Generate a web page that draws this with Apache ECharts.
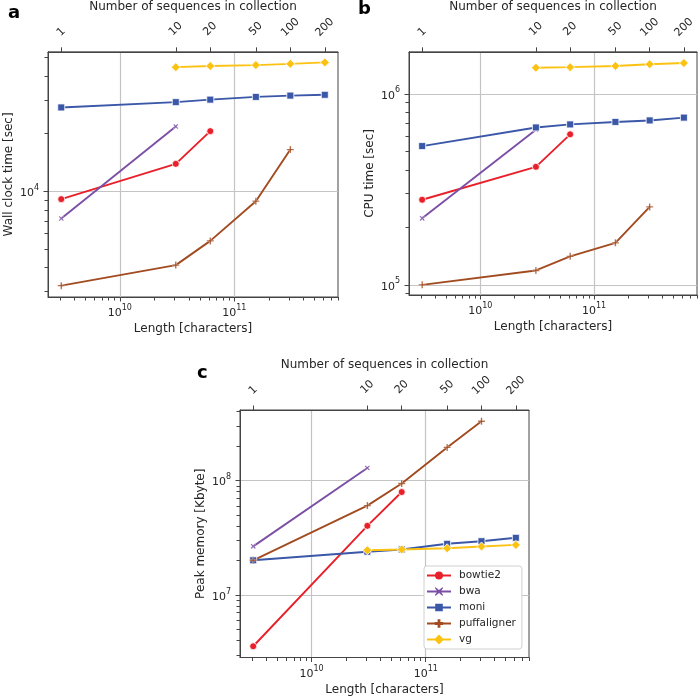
<!DOCTYPE html>
<html><head><meta charset="utf-8">
<script src="https://cdn.jsdelivr.net/npm/echarts@6/dist/echarts.min.js"></script>
<style>html,body{margin:0;padding:0;background:#fff}#c{width:700px;height:698px}</style>
</head><body><div id="c"></div>
<script>
// ---------- data ----------
const seqCounts = [1, 10, 20, 50, 100, 200];
const lengths = [3.08e9, 3.08e10, 6.16e10, 1.54e11, 3.08e11, 6.16e11];
const tools = ['bowtie2', 'bwa', 'moni', 'puffaligner', 'vg'];
// which collection sizes each tool was run on (indices into lengths)
const bowtie2Idx = [0, 1, 2];
const bwaIdx = [0, 1];
const moniIdx = [0, 1, 2, 3, 4, 5];
const puffalignerIdx = [0, 1, 2, 3, 4];
const vgIdx = [1, 2, 3, 4, 5];
// panel a: wall clock time [sec]
const wallBowtie2 = [9.09e3, 1.39e4, 2.06e4];
const wallBwa = [7.2e3, 2.18e4];
const wallMoni = [2.74e4, 2.92e4, 3.01e4, 3.11e4, 3.16e4, 3.19e4];
const wallPuffaligner = [3.21e3, 4.11e3, 5.5e3, 8.87e3, 1.65e4];
const wallVg = [4.45e4, 4.51e4, 4.56e4, 4.63e4, 4.71e4];
// panel b: CPU time [sec]
const cpuBowtie2 = [2.79e5, 4.15e5, 6.14e5];
const cpuBwa = [2.23e5, 6.49e5];
const cpuMoni = [5.33e5, 6.67e5, 6.92e5, 7.13e5, 7.26e5, 7.51e5];
const cpuPuffaligner = [1.0e5, 1.19e5, 1.41e5, 1.66e5, 2.56e5];
const cpuVg = [1.37e6, 1.38e6, 1.40e6, 1.43e6, 1.45e6];
// panel c: peak memory [Kbyte]
const memBowtie2 = [3.56e6, 4.02e7, 7.94e7];
const memBwa = [2.66e7, 1.29e8];
const memMoni = [2.01e7, 2.39e7, 2.5e7, 2.8e7, 2.95e7, 3.16e7];
const memPuffaligner = [2.01e7, 6.04e7, 9.42e7, 1.95e8, 3.3e8];
const memVg = [2.46e7, 2.5e7, 2.56e7, 2.65e7, 2.74e7];
// tick values
const xMajorTicks = [1e10, 1e11];
const xMinorTicks = [3e9, 4e9, 5e9, 6e9, 7e9, 8e9, 9e9, 2e10, 3e10, 4e10, 5e10, 6e10, 7e10, 8e10, 9e10, 2e11, 3e11, 4e11, 5e11, 6e11, 7e11, 8e11];
const yMajorA = [1e4];
const yMinorA = [3e3, 4e3, 5e3, 6e3, 7e3, 8e3, 9e3, 2e4, 3e4, 4e4, 5e4];
const yMajorB = [1e5, 1e6];
const yMinorB = [9e4, 2e5, 3e5, 4e5, 5e5, 6e5, 7e5, 8e5, 9e5];
const yMajorC = [1e7, 1e8];
const yMinorC = [3e6, 4e6, 5e6, 6e6, 7e6, 8e6, 9e6, 2e7, 3e7, 4e7, 5e7, 6e7, 7e7, 8e7, 9e7, 2e8, 3e8, 4e8];

// ---------- styling ----------
const FONT = 'DejaVu Sans';
const TXT = '#262626';
const colors = { bowtie2: '#e8202a', bwa: '#7b4fa5', moni: '#3a57a8', puffaligner: '#a24b20', vg: '#fcc212' };
const plusPath = 'path://M4,0H6V4H10V6H6V10H4V6H0V4H4Z';
const symbols = {
  bowtie2: { symbol: 'circle', size: 7, rotate: 0, bw: 0.8 },
  bwa: { symbol: plusPath, size: 6, rotate: 45, bw: 0.3 },
  moni: { symbol: 'rect', size: 7, rotate: 0, bw: 0.8 },
  puffaligner: { symbol: plusPath, size: 7, rotate: 0, bw: 0.3 },
  vg: { symbol: 'diamond', size: 9, rotate: 0, bw: 0.8 }
};
// legend icons: line with a filled marker in the middle, in a 24x11 box (all drawn clockwise)
const LINE = 'M0,4.6H24V6.4H0Z ';
const legendIcons = {
  bowtie2: 'path://' + LINE + 'M8,5.5A4,4 0 1,1 16,5.5A4,4 0 1,1 8,5.5Z',
  bwa: 'path://' + LINE + 'M8.6,1.3L12,4.1L15.4,1.3L16.2,2.1L13.4,5.5L16.2,8.9L15.4,9.7L12,6.9L8.6,9.7L7.8,8.9L10.6,5.5L7.8,2.1Z',
  moni: 'path://' + LINE + 'M8.2,1.7H15.8V9.3H8.2Z',
  puffaligner: 'path://' + LINE + 'M10.6,1.3H13.4V4.1H16.2V6.9H13.4V9.7H10.6V6.9H7.8V4.1H10.6Z',
  vg: 'path://' + LINE + 'M12,0.6L16.9,5.5L12,10.4L7.1,5.5Z'
};

const panels = [
  { grid: { left: 48, top: 51, width: 290, height: 246 }, ymin: 2.8e3, ymax: 5.35e4, yMajor: yMajorA, yMinor: yMinorA, yName: 'Wall clock time [sec]',
    data: { bowtie2: wallBowtie2, bwa: wallBwa, moni: wallMoni, puffaligner: wallPuffaligner, vg: wallVg } },
  { grid: { left: 409, top: 48.5, width: 288, height: 246.5 }, ymin: 8.85e4, ymax: 1.66e6, yMajor: yMajorB, yMinor: yMinorB, yName: 'CPU time [sec]',
    data: { bowtie2: cpuBowtie2, bwa: cpuBwa, moni: cpuMoni, puffaligner: cpuPuffaligner, vg: cpuVg } },
  { grid: { left: 240, top: 410, width: 289, height: 247.5 }, ymin: 2.84e6, ymax: 4.14e8, yMajor: yMajorC, yMinor: yMinorC, yName: 'Peak memory [Kbyte]',
    data: { bowtie2: memBowtie2, bwa: memBwa, moni: memMoni, puffaligner: memPuffaligner, vg: memVg } }
];
const idxOf = { bowtie2: bowtie2Idx, bwa: bwaIdx, moni: moniIdx, puffaligner: puffalignerIdx, vg: vgIdx };
const XMIN = 2.36e9, XMAX = 8.03e11;

const rich = {
  b: { fontSize: 11, fontFamily: FONT, color: TXT, lineHeight: 15, verticalAlign: 'bottom' },
  s: { fontSize: 8, fontFamily: FONT, color: TXT, lineHeight: 9, verticalAlign: 'top' }
};
// top labels: bottom-anchored like the original (shorter labels sit lower)
const topRich = {
  n1: { fontSize: 11, fontFamily: FONT, color: TXT, padding: [6.6, 6.6, 0, 0] },
  n2: { fontSize: 11, fontFamily: FONT, color: TXT, padding: [2.3, 2.3, 0, 0] },
  n3: { fontSize: 11, fontFamily: FONT, color: TXT }
};
const powLabel = v => '{b|10}{s|' + Math.round(Math.log10(v)) + '}';
const countLabel = v => {
  let best = 0;
  for (let i = 1; i < lengths.length; i++) {
    if (Math.abs(Math.log10(v) - Math.log10(lengths[i])) < Math.abs(Math.log10(v) - Math.log10(lengths[best]))) best = i;
  }
  const s = String(seqCounts[best]);
  return '{n' + s.length + '|' + s + '}';
};

const grids = [], xAxes = [], yAxes = [], series = [];
panels.forEach((p, pi) => {
  grids.push(Object.assign({ show: true, borderColor: '#444', borderWidth: 1, backgroundColor: 'transparent' }, p.grid));
  xAxes.push({ type: 'log', gridIndex: pi, position: 'bottom', min: XMIN, max: XMAX,
    name: 'Length [characters]', nameLocation: 'middle', nameGap: 26,
    nameTextStyle: { fontSize: 12, fontFamily: FONT, color: TXT },
    axisLine: { show: true, lineStyle: { color: '#444', width: 1 } },
    axisTick: { show: true, length: 4.5, customValues: xMajorTicks, lineStyle: { color: '#444', width: 1 } },
    axisLabel: { show: true, customValues: xMajorTicks, formatter: powLabel, rich: rich, margin: 7 },
    splitLine: { show: true, lineStyle: { color: '#c4c4c4', width: 1.2 } } });
  xAxes.push({ type: 'log', gridIndex: pi, position: 'bottom', min: XMIN, max: XMAX,
    axisLine: { show: false }, axisLabel: { show: false }, splitLine: { show: false },
    axisTick: { show: true, length: 3.5, customValues: xMinorTicks, lineStyle: { color: '#444', width: 1 } } });
  xAxes.push({ type: 'log', gridIndex: pi, position: 'top', min: XMIN, max: XMAX,
    name: 'Number of sequences in collection', nameLocation: 'middle', nameGap: 37,
    nameTextStyle: { fontSize: 12, fontFamily: FONT, color: TXT },
    axisLine: { show: true, lineStyle: { color: '#444', width: 1 } },
    axisTick: { show: true, length: 4.5, customValues: lengths, lineStyle: { color: '#444', width: 1 } },
    axisLabel: { show: true, customValues: lengths, formatter: countLabel, rich: topRich, rotate: -45, align: 'center', verticalAlign: 'middle',
      margin: 24.5, fontSize: 11, fontFamily: FONT, color: TXT },
    splitLine: { show: false } });
  yAxes.push({ type: 'log', gridIndex: pi, position: 'left', min: p.ymin, max: p.ymax,
    name: p.yName, nameLocation: 'middle', nameGap: 33,
    nameTextStyle: { fontSize: 12, fontFamily: FONT, color: TXT },
    axisLine: { show: true, lineStyle: { color: '#444', width: 1 } },
    axisTick: { show: true, length: 4.5, customValues: p.yMajor, lineStyle: { color: '#444', width: 1 } },
    axisLabel: { show: true, customValues: p.yMajor, formatter: powLabel, rich: rich, margin: 9 },
    splitLine: { show: true, lineStyle: { color: '#c4c4c4', width: 1.2 } } });
  yAxes.push({ type: 'log', gridIndex: pi, position: 'left', min: p.ymin, max: p.ymax,
    axisLine: { show: false }, axisLabel: { show: false }, splitLine: { show: false },
    axisTick: { show: true, length: 3.5, customValues: p.yMinor, lineStyle: { color: '#444', width: 1 } } });

  tools.forEach(t => {
    const s = symbols[t];
    const vals = p.data[t];
    series.push({
      type: 'line', name: t, xAxisIndex: pi * 3, yAxisIndex: pi * 2,
      data: idxOf[t].map((i, k) => [lengths[i], vals[k]]),
      symbol: s.symbol, symbolSize: s.size, symbolRotate: s.rotate, showSymbol: true, showAllSymbol: true,
      lineStyle: { color: colors[t], width: 1.9 },
      itemStyle: { color: colors[t], borderColor: '#fff', borderWidth: s.bw },
      emphasis: { disabled: true }, animation: false
    });
  });
});

const chart = echarts.init(document.getElementById('c'), null, { renderer: 'canvas' });
chart.setOption({
  animation: false,
  backgroundColor: '#fff',
  textStyle: { fontFamily: FONT },
  grid: grids, xAxis: xAxes, yAxis: yAxes, series: series,
  legend: {
    orient: 'vertical', left: 424, top: 566,
    data: tools.map(t => ({ name: t, icon: legendIcons[t], itemStyle: { color: colors[t], borderWidth: 0 } })),
    itemWidth: 24, itemHeight: 11, itemGap: 5,
    textStyle: { fontSize: 10.5, fontFamily: FONT, color: TXT, padding: [0, 0, 0, 3] },
    backgroundColor: '#fff', borderColor: '#d0d0d0', borderWidth: 1, borderRadius: 3,
    padding: [4, 6, 4, 3], selectedMode: false
  },
  graphic: [
    { type: 'text', left: 8, top: 4, style: { text: 'a', font: 'bold 18px "DejaVu Sans"', fill: '#000' } },
    { type: 'text', left: 358, top: 0, style: { text: 'b', font: 'bold 18px "DejaVu Sans"', fill: '#000' } },
    { type: 'text', left: 197, top: 364, style: { text: 'c', font: 'bold 18px "DejaVu Sans"', fill: '#000' } }
  ]
});
</script>
</body></html>
